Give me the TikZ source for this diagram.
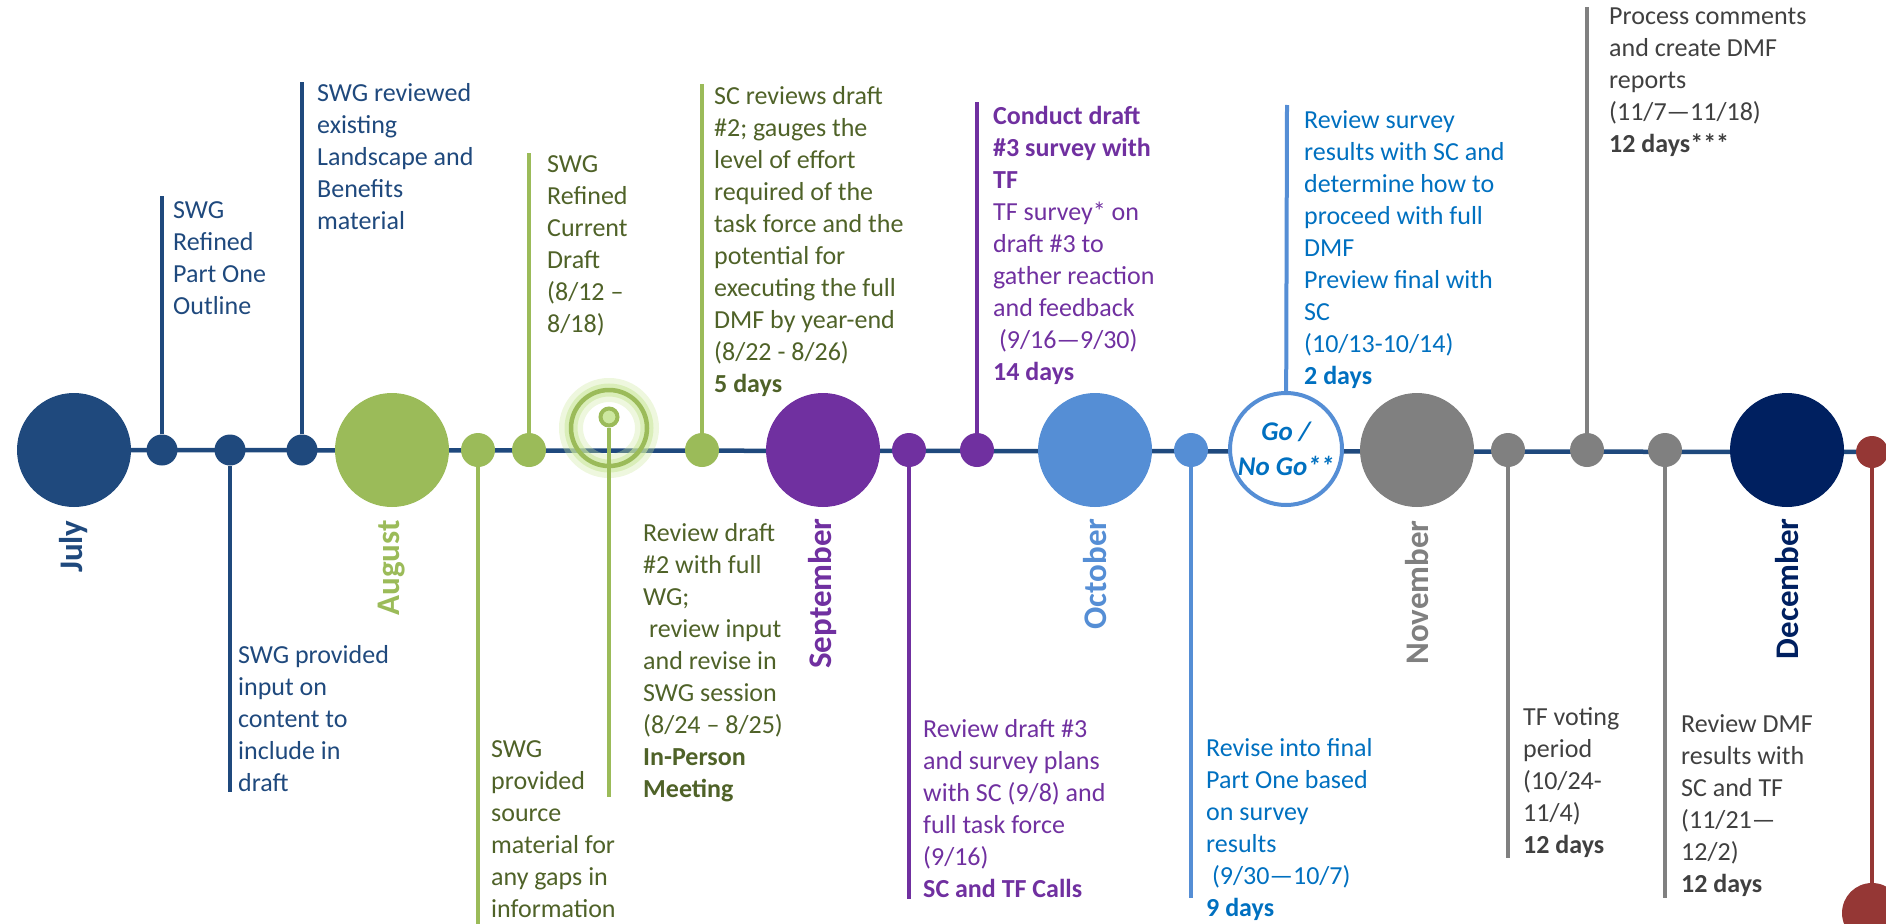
\documentclass[tikz,border=0pt]{standalone}
\usepackage{fontspec}
\setmainfont{Carlito}
\usetikzlibrary{positioning}
\usetikzlibrary{backgrounds}

\definecolor{jblue}{RGB}{31,73,125}
\definecolor{agreen}{RGB}{155,187,89}
\definecolor{gtext}{RGB}{79,98,40}
\definecolor{spurple}{RGB}{112,48,160}
\definecolor{oblue}{RGB}{85,142,213}
\definecolor{btext}{RGB}{0,112,192}
\definecolor{ngray}{RGB}{128,128,128}
\definecolor{gytext}{RGB}{64,64,64}
\definecolor{dnavy}{RGB}{0,32,96}
\definecolor{xred}{RGB}{149,55,53}
\definecolor{glow}{RGB}{205,232,160}

\begin{document}
\begin{tikzpicture}[x=1pt,y=-1pt,
    month/.style={circle, fill=#1, minimum size=114pt, inner sep=0pt},
    evt/.style={circle, fill=#1, minimum size=34pt, inner sep=0pt},
    stem/.style={draw=#1, line width=4pt},
    txt/.style={anchor=north west, inner sep=0pt, align=left, text=#1,
      font=\fontsize{26}{32}\selectfont},
    mlab/.style={rotate=90, anchor=east, inner sep=0pt, text=#1,
      font=\fontsize{33}{36}\selectfont\bfseries}]
  \useasboundingbox (0,0) rectangle (1886,923);

  % Months
  \node[month=jblue] (jul) at (74,450) {};
  \node[month=agreen] (aug) at (392,450) {};
  \node[month=spurple] (sep) at (823,450) {};
  \node[month=oblue] (oct) at (1095,450) {};
  \node[month=ngray] (nov) at (1417,450) {};
  \node[month=dnavy] (dec) at (1787,450) {};

  \node[mlab=jblue] at ([yshift=-13pt]jul.south) {July};
  \node[mlab=agreen] at ([yshift=-13pt]aug.south) {August};
  \node[mlab=spurple] at ([yshift=-11pt]sep.south) {September};
  \node[mlab=oblue] at ([yshift=-11pt]oct.south) {October};
  \node[mlab=ngray] at ([yshift=-13pt]nov.south) {November};
  \node[mlab=dnavy] at ([yshift=-11pt]dec.south) {December};

  % Events
  \node[evt=jblue, minimum size=31pt] (b1) at (162,450) {};
  \node[evt=jblue, minimum size=31pt] (b2) at (230,450) {};
  \node[evt=jblue, minimum size=31pt] (b3) at (302,450) {};
  \node[evt=agreen] (g1) at (478,450) {};
  \node[evt=agreen] (g2) at (529,450) {};
  \node[evt=agreen] (g3) at (702,450) {};
  \node[evt=spurple] (p1) at (909,450) {};
  \node[evt=spurple] (p2) at (977,450) {};
  \node[evt=oblue] (o1) at (1191,450) {};
  \node[evt=ngray] (n1) at (1508,450) {};
  \node[evt=ngray] (n2) at (1587,450) {};
  \node[evt=ngray] (n3) at (1665,450) {};
  \node[evt=xred, minimum size=32pt] (r1) at (1872,452) {};
  \node[evt=xred, minimum size=60pt] (r2) at (1872,913) {};

  % Go / No Go
  \node[circle, draw=oblue, fill=white, line width=4pt, minimum size=112pt,
    inner sep=0pt, align=center, text=btext,
    font=\fontsize{27}{36}\selectfont\bfseries\itshape] (go) at (1286,449) {\raisebox{-3pt}{Go /}\\[-1pt]\raisebox{-3pt}{No Go**}};

  % Meeting target
  \node[circle, draw=glow, opacity=0.35, line width=24pt, minimum size=76pt] (tg) at (609,428) {};
  \node[circle, draw=glow, opacity=0.6, line width=13pt, minimum size=76pt] at (tg) {};
  \node[circle, draw=agreen, line width=4.5pt, minimum size=76pt] at (tg) {};
  \node[circle, draw=agreen, fill=glow, line width=4pt, minimum size=17pt, inner sep=0pt] (tc) at (609,417) {};

  % Timeline
  \begin{scope}[on background layer]
    \draw[jblue, line width=4.5pt] (jul.center) -- (r1.center);
  \end{scope}

  % Stems
  \coordinate (s1) at (162,196);
  \coordinate (s2) at (230,792);
  \coordinate (s3) at (302,82);
  \coordinate (s4) at (478,930);
  \coordinate (s5) at (529,153);
  \coordinate (s6) at (609,797);
  \coordinate (s7) at (702,84);
  \coordinate (s8) at (909,899);
  \coordinate (s9) at (977,102);
  \coordinate (s10) at (1191,898);
  \coordinate (s11) at (1287,105);
  \coordinate (s12) at (1508,858);
  \coordinate (s13) at (1587,7);
  \coordinate (s14) at (1665,898);
  \draw[stem=jblue] (b1) -- (s1);
  \draw[stem=jblue] (b2) -- (s2);
  \draw[stem=jblue] (b3) -- (s3);
  \draw[stem=agreen] (g1) -- (s4);
  \draw[stem=agreen] (g2) -- (s5);
  \draw[stem=agreen] (tc) -- (s6);
  \draw[stem=agreen] (g3) -- (s7);
  \draw[stem=spurple] (p1) -- (s8);
  \draw[stem=spurple] (p2) -- (s9);
  \draw[stem=oblue] (o1) -- (s10);
  \draw[stem=oblue] (go) -- (s11);
  \draw[stem=ngray] (n1) -- (s12);
  \draw[stem=ngray] (n2) -- (s13);
  \draw[stem=ngray] (n3) -- (s14);
  \draw[stem=xred] (r1) -- (r2);

  % Texts
  \node[txt=jblue] (t1) at (173,201) {SWG\\Refined\\Part One\\Outline};
  \node[txt=jblue] (t2) at (317,83) {SWG reviewed\\existing\\Landscape and\\Benefits\\material};
  \node[txt=jblue] (t3) at (238,645) {SWG provided\\input on\\content to\\include in\\draft};
  \node[txt=gtext] (t4) at (491,740) {SWG\\provided\\source\\material for\\any gaps in\\information};
  \node[txt=gtext] (t5) at (547,155) {SWG\\Refined\\Current\\Draft\\(8/12 –\\8/18)};
  \node[txt=gtext] (t6) at (714,86) {SC reviews draft\\\#2; gauges the\\level of effort\\required of the\\task force and the\\potential for\\executing the full\\DMF by year-end\\(8/22 - 8/26)\\\textbf{5 days}};
  \node[txt=gtext] (t7) at (643,523) {Review draft\\\#2 with full\\WG;\\\ review input\\and revise in\\SWG session\\(8/24 – 8/25)\\\textbf{In-Person}\\\textbf{Meeting}};
  \node[txt=spurple] (t8) at (993,106) {\textbf{Conduct draft}\\\textbf{\#3 survey with}\\\textbf{TF}\\TF survey* on\\draft \#3 to\\gather reaction\\and feedback\\\ (9/16—9/30)\\\textbf{14 days}};
  \node[txt=spurple] (t9) at (923,719) {Review draft \#3\\and survey plans\\with SC (9/8) and\\full task force\\(9/16)\\\textbf{SC and TF Calls}};
  \node[txt=btext] (t10) at (1304,110) {Review survey\\results with SC and\\determine how to\\proceed with full\\DMF\\Preview final with\\SC\\(10/13-10/14)\\\textbf{2 days}};
  \node[txt=btext] (t11) at (1206,738) {Revise into final\\Part One based\\on survey\\results\\\ (9/30—10/7)\\\textbf{9 days}};
  \node[txt=gytext] (t12) at (1609,8) {Process comments\\and create DMF\\reports\\(11/7—11/18)\\\textbf{12 days***}};
  \node[txt=gytext] (t13) at (1523,707) {TF voting\\period\\(10/24-\\11/4)\\\textbf{12 days}};
  \node[txt=gytext] (t14) at (1681,714) {Review DMF\\results with\\SC and TF\\(11/21—\\12/2)\\\textbf{12 days}};
\end{tikzpicture}
\end{document}
